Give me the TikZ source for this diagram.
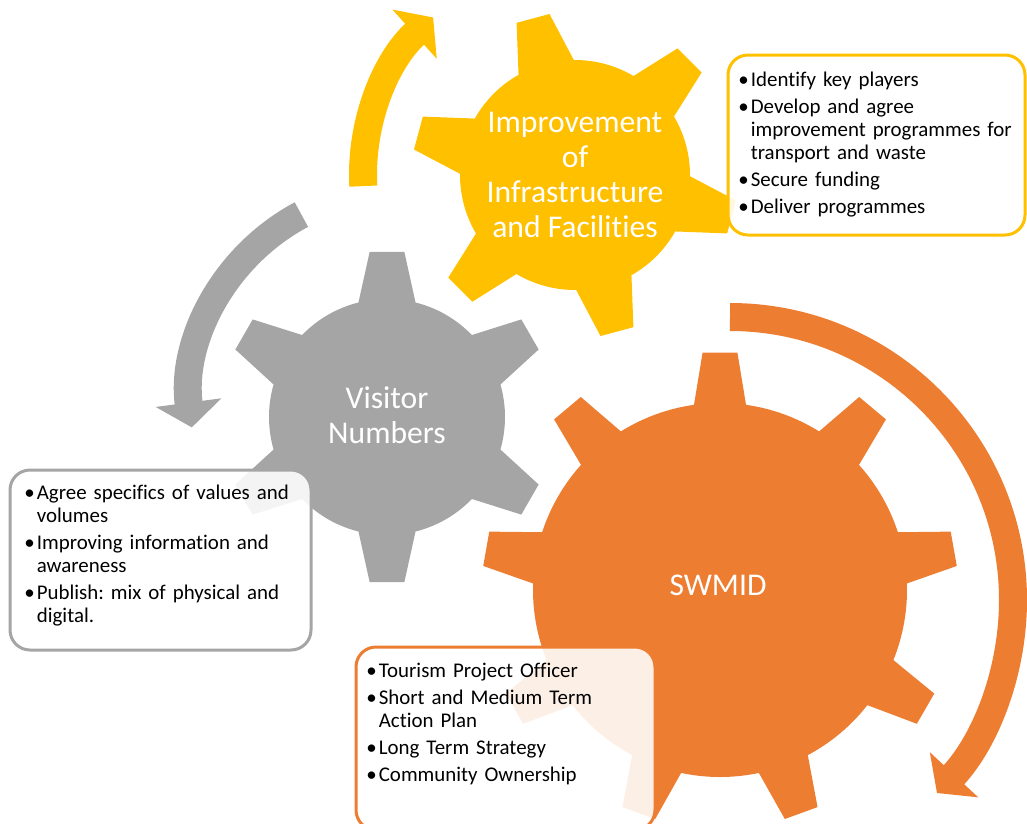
\documentclass[tikz,border=0pt]{standalone}
\usepackage{fontspec}
\setmainfont{Carlito}[Ligatures=NoCommon]
\usetikzlibrary{arrows.meta}

\definecolor{gold}{HTML}{FFC000}
\definecolor{ash}{HTML}{A5A5A5}
\definecolor{rust}{HTML}{ED7D31}

% bullet point with hanging lines
\newcommand{\point}[1]{\par\noindent\hangindent=2.5mm\hangafter=1\makebox[2.5mm][l]{\textbullet}#1\par}

% cog: centre, body radius, tip radius, teeth, first tooth, base half angle, tip half angle, colour
\newcommand{\cog}[8]{%
	\pgfmathsetmacro{\cogstep}{360/#4}
	\fill[#8, shift={(#1)}] ({#5-#6}:#2)
	\foreach \k in {1,...,#4} {
		-- ({#5+(\k-1)*\cogstep-#7}:#3) -- ({#5+(\k-1)*\cogstep+#7}:#3)
		-- ({#5+(\k-1)*\cogstep+#6}:#2)
		arc[start angle={#5+(\k-1)*\cogstep+#6}, end angle={#5+\k*\cogstep-#6}, radius=#2]
	} -- cycle;
}

\begin{document}
\frenchspacing
\begin{tikzpicture}[x=0.2mm, y=0.2mm,
	gear_label/.style={text=white, align=center, font=\fontsize{18}{19.9}\selectfont},
	list_box/.style={rounded corners=4mm, line width=0.6mm, fill=white, fill opacity=0.88},
	list_text/.style={anchor=north west, inner sep=0pt, text width=62mm, align=left,
		font=\fontsize{11.9}{13.1}\selectfont, execute at begin node={\setlength{\parskip}{0.8mm}}},
	turn_arrow/.style={line width=5.6mm, -{Triangle[width=13mm, length=5mm]}}]

		\useasboundingbox (0,0) rectangle (1027,-823);

		\coordinate (infra) at (575,-175);
		\coordinate (visitor) at (387,-417);
		\coordinate (swmid) at (720,-590);
		\coordinate (visitor_turn) at (400,-400);
		\coordinate (swmid_turn) at (730,-600);

		% turning arrows
		\draw[turn_arrow, gold] ([shift={(183:212)}]infra) arc[start angle=183, end angle=132, radius=212];
		\draw[turn_arrow, ash] ([shift={(118:210)}]visitor_turn) arc[start angle=118, end angle=187.5, radius=210];
		\draw[turn_arrow, rust] ([shift={(90:283)}]swmid_turn) arc[start angle=90, end angle=-43, radius=283];

		% gears
		\cog{infra}{115}{163}{6}{45}{14.4}{6}{gold}
		\cog{visitor}{118}{166}{6}{30}{14}{6}{ash}
		\cog{swmid}{187}{238}{9}{10}{8}{4.2}{rust}

		\node[gear_label] (infra_name) at (575,-175) {Improvement\\of\\Infrastructure\\and Facilities};
		\node[gear_label] (visitor_name) at (387,-415) {Visitor\\Numbers};
		\node[gear_label] (swmid_name) at (718,-585) {SWMID};

		% lists
		\draw[list_box, draw=gold] (728,-55) rectangle (1025,-235);
		\draw[list_box, draw=ash] (10,-470) rectangle (311,-650);
		\draw[list_box, draw=rust] (356,-647) rectangle (655,-830);

		\node[list_text] (infra_list) at (738,-59) {\point{Identify key players}\point{Develop and agree\newline improvement programmes for\newline transport and waste}\point{Secure funding}\point{Deliver programmes}};
		\node[list_text] (visitor_list) at (24,-472) {\point{Agree specifics of values and\newline volumes}\point{Improving information and\newline awareness}\point{Publish: mix of physical and\newline digital.}};
		\node[list_text] (swmid_list) at (366,-650) {\point{Tourism Project Officer}\point{Short and Medium Term\newline Action Plan}\point{Long Term Strategy}\point{Community Ownership}};

\end{tikzpicture}
\end{document}
